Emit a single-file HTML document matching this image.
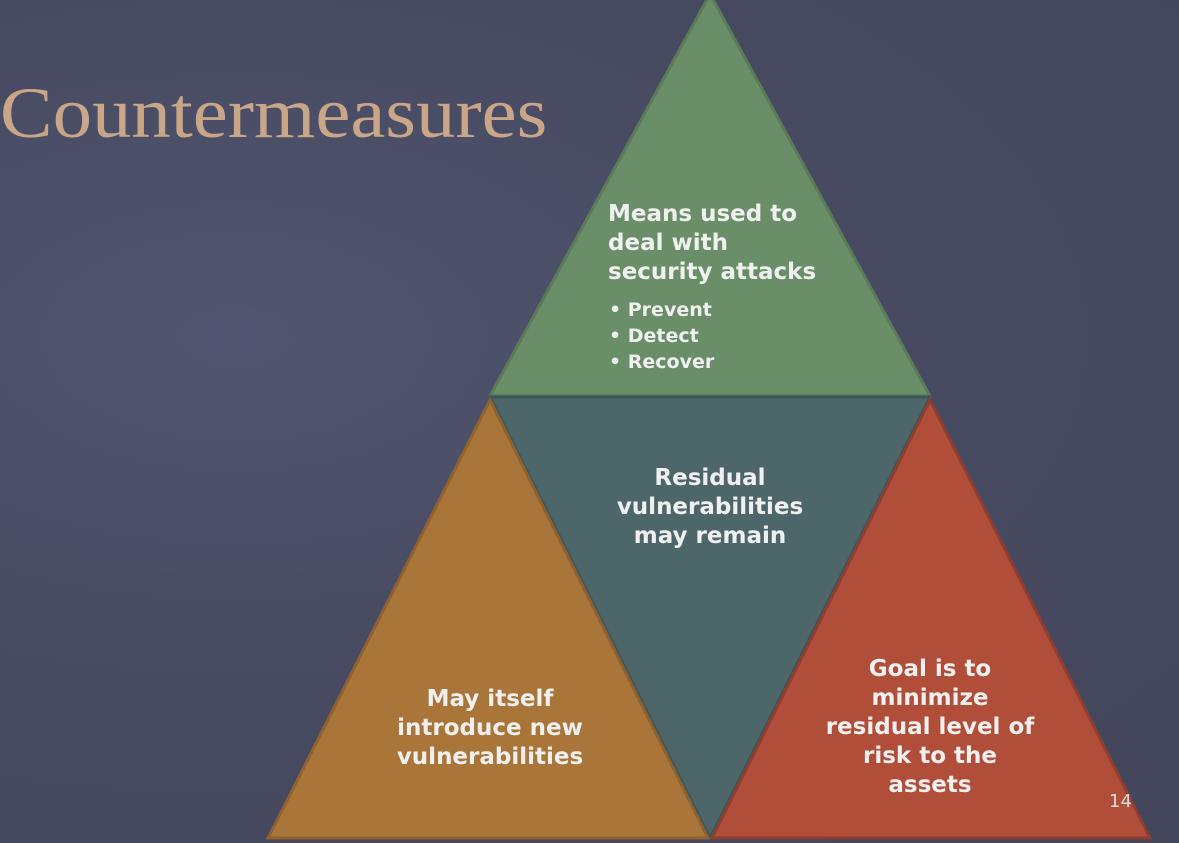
<!DOCTYPE html>
<html><head><meta charset="utf-8"><style>
html,body{margin:0;padding:0;}
body{width:1179px;height:843px;overflow:hidden;background:radial-gradient(ellipse at 20% 40%,#505570 0%,#474a60 50%,#43465b 100%);position:relative;font-family:"DejaVu Sans","Liberation Sans",sans-serif;}
.t{position:absolute;color:#f0f0f0;font-weight:bold;text-align:center;line-height:29px;font-size:23px;}
</style></head><body>
<div style="position:absolute;left:0;top:72px;font-family:'Liberation Serif',serif;font-size:72px;color:#c9a688;transform:scaleX(1.095);transform-origin:0 0;">Countermeasures</div>
<svg width="1179" height="843" style="position:absolute;left:0;top:0">
<polygon points="710,-6 490,396 930,396" fill="#6a8e68" stroke="#5a7a58" stroke-width="3"/>
<polygon points="490,397 930,397 710,838" fill="#4c6669" stroke="#3e5558" stroke-width="3"/>
<polygon points="490,400 268,838 708,838" fill="#aa7538" stroke="#8e6230" stroke-width="3"/>
<polygon points="930,400 712,838 1150,838" fill="#b04e3a" stroke="#8e3e30" stroke-width="3"/>
</svg>
<div class="t" style="left:608px;top:200px;text-align:left;">Means used to<br>deal with<br>security attacks</div>
<div style="position:absolute;left:609px;top:297px;color:#f0f0f0;font-weight:bold;font-size:19px;line-height:26px;">• Prevent<br>• Detect<br>• Recover</div>
<div class="t" style="left:590px;top:464px;width:240px;">Residual<br>vulnerabilities<br>may remain</div>
<div class="t" style="left:370px;top:685px;width:240px;">May itself<br>introduce new<br>vulnerabilities</div>
<div class="t" style="left:810px;top:655px;width:240px;">Goal is to<br>minimize<br>residual level of<br>risk to the<br>assets</div>
<div style="position:absolute;left:1109px;top:791px;color:#ddd;font-size:18px;">14</div>
</body></html>
